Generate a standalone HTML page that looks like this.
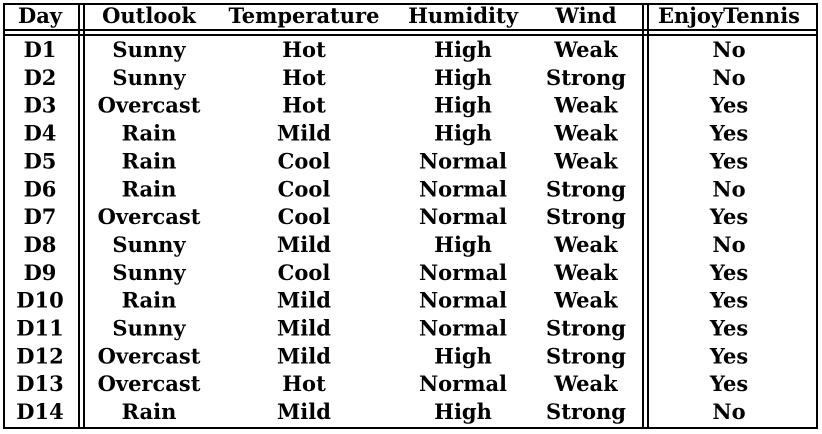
<!DOCTYPE html>
<html><head><meta charset="utf-8"><style>
html,body{margin:0;padding:0;background:#fff;}
svg{display:block;}
text{font-family:"DejaVu Serif","Liberation Serif",serif;font-weight:700;font-size:21px;fill:#000;}
</style></head><body>
<svg id="t" width="822" height="434" viewBox="0 0 822 434" xmlns="http://www.w3.org/2000/svg">
<g stroke="#000" stroke-width="2" fill="none">
<rect x="4" y="4" width="813" height="424"/>
<line x1="4" y1="30" x2="817" y2="30"/>
<line x1="4" y1="35" x2="817" y2="35"/>
<line x1="79" y1="4" x2="79" y2="428"/>
<line x1="84" y1="4" x2="84" y2="428"/>
<line x1="643" y1="4" x2="643" y2="428"/>
<line x1="648" y1="4" x2="648" y2="428"/>
</g>
<g id="cells"></g>
</svg>
<script>
const headers=["Day","Outlook","Temperature","Humidity","Wind","EnjoyTennis"];
const outlook=["Sunny","Sunny","Overcast","Rain","Rain","Rain","Overcast","Sunny","Sunny","Rain","Sunny","Overcast","Overcast","Rain"];
const temperature=["Hot","Hot","Hot","Mild","Cool","Cool","Cool","Mild","Cool","Mild","Mild","Mild","Hot","Mild"];
const humidity=["High","High","High","High","Normal","Normal","Normal","High","Normal","Normal","Normal","High","Normal","High"];
const wind=["Weak","Strong","Weak","Weak","Weak","Strong","Strong","Weak","Weak","Weak","Strong","Strong","Weak","Strong"];
const enjoy=["No","No","Yes","Yes","Yes","No","Yes","No","Yes","Yes","Yes","Yes","Yes","No"];
const colX=[40,149,304,463,586,729];
const g=document.getElementById('cells');
const NS="http://www.w3.org/2000/svg";
function add(txt,x,y,name){
  const t=document.createElementNS(NS,'text');
  
  
  t.setAttribute('x',x);t.setAttribute('y',y);
  t.setAttribute('text-anchor','middle');
  t.textContent=txt;g.appendChild(t);
}
headers.forEach((h,i)=>add(h,colX[i],23,'header-'+h.toLowerCase()));
const rowH=27.85;
for(let r=0;r<14;r++){
  const y=57+r*rowH;
  const vals=["D"+(r+1),outlook[r],temperature[r],humidity[r],wind[r],enjoy[r]];
  vals.forEach((v,i)=>add(v,colX[i],y,'cell-r'+(r+1)+'-'+headers[i].toLowerCase()));
}
</script>
</body></html>
